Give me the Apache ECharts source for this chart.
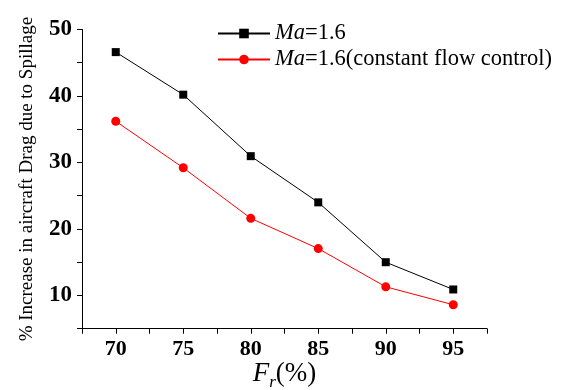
<!DOCTYPE html>
<html>
<head>
<meta charset="utf-8">
<script src="https://cdn.jsdelivr.net/npm/echarts@6/dist/echarts.min.js"></script>
<style>html,body{margin:0;padding:0;background:#fff}#c{width:563px;height:390px}</style>
</head>
<body>
<div id="c"></div>
<script>
var xValues = [70, 75, 80, 85, 90, 95];
var seriesNames = ['Ma=1.6', 'Ma=1.6(constant flow control)'];
var blackValues = [46.6, 40.2, 30.95, 24.0, 15.0, 10.9];
var redValues = [36.2, 29.2, 21.6, 17.05, 11.3, 8.6];
var yTicks = [10, 20, 30, 40, 50];

var font = 'Liberation Serif';
function pairs(xs, ys) { return xs.map(function (x, i) { return [x, ys[i]]; }); }

var chart = echarts.init(document.getElementById('c'), null, {renderer: 'canvas'});
chart.setOption({
  animation: false,
  backgroundColor: '#fff',
  grid: {left: 82, right: 76, top: 29.5, bottom: 61.3, containLabel: false, outerBoundsMode: 'none'},
  legend: {
    orient: 'vertical', left: 212, top: 17, itemWidth: 52, itemHeight: 12, itemGap: 3,
    data: seriesNames,
    formatter: function (n) {
      var rest = n.slice(2);
      return '{i|Ma}{n|' + rest + '}';
    },
    textStyle: {
      fontFamily: font, fontSize: 22.5, color: '#000',
      rich: {
        i: {fontFamily: font, fontSize: 22.5, fontStyle: 'italic', color: '#000'},
        n: {fontFamily: font, fontSize: 22.5, color: '#000'}
      }
    }
  },
  xAxis: {
    type: 'value', min: 67.5, max: 97.5, interval: 2.5,
    name: '{i|F}{sub|r}{n|(%)}', nameLocation: 'middle', nameGap: 28, nameMoveOverlap: false,
    nameTextStyle: {
      fontFamily: font, color: '#000',
      rich: {
        i: {fontFamily: font, fontSize: 27, fontStyle: 'italic', color: '#000', lineHeight: 34},
        sub: {fontFamily: font, fontSize: 17, fontStyle: 'italic', color: '#000', verticalAlign: 'bottom', lineHeight: 8},
        n: {fontFamily: font, fontSize: 27, color: '#000', lineHeight: 34}
      }
    },
    axisLine: {show: true, onZero: false, lineStyle: {color: '#000', width: 1}},
    axisTick: {show: true, inside: false, length: 5, lineStyle: {color: '#000'}},
    splitLine: {show: false},
    axisLabel: {
      fontFamily: font, fontSize: 22, fontWeight: 'bold', color: '#000', margin: 10,
      formatter: function (v) { return xValues.indexOf(v) >= 0 ? String(v) : ''; }
    }
  },
  yAxis: {
    type: 'value', min: 5, max: 50, interval: 5,
    name: '% Increase in aircraft Drag due to Spillage', nameLocation: 'middle', nameGap: 45,
    nameTextStyle: {fontFamily: font, fontSize: 19, color: '#000'},
    axisLine: {show: true, onZero: false, lineStyle: {color: '#000', width: 1}},
    axisTick: {show: true, inside: false, length: 5, lineStyle: {color: '#000'}},
    splitLine: {show: false},
    axisLabel: {
      fontFamily: font, fontSize: 23, fontWeight: 'bold', color: '#000', margin: 10,
      formatter: function (v) { return yTicks.indexOf(v) >= 0 ? String(v) : ''; }
    }
  },
  series: [
    {
      name: seriesNames[0], type: 'line', data: pairs(xValues, blackValues),
      symbol: 'rect', symbolSize: 8, lineStyle: {color: '#000', width: 1},
      itemStyle: {color: '#000'}
    },
    {
      name: seriesNames[1], type: 'line', data: pairs(xValues, redValues),
      symbol: 'circle', symbolSize: 9, lineStyle: {color: '#ff0000', width: 1},
      itemStyle: {color: '#ff0000'}
    }
  ]
});
</script>
</body>
</html>
